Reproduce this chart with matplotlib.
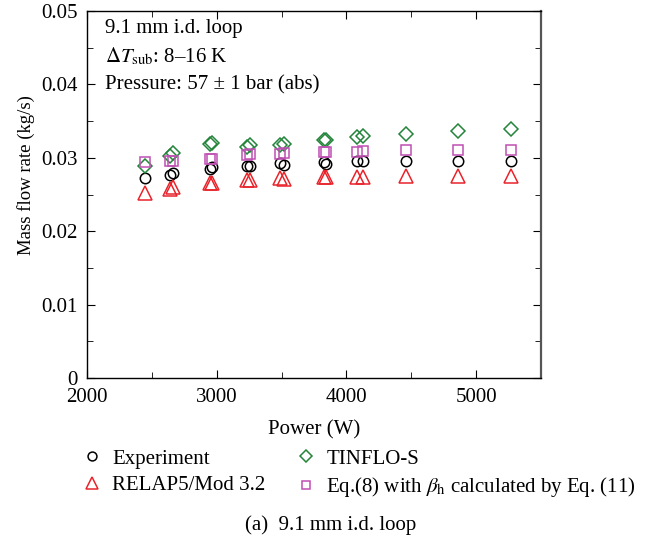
import matplotlib
matplotlib.use("Agg")
import matplotlib.pyplot as plt
from matplotlib.ticker import MultipleLocator, FuncFormatter

plt.rcParams['font.family'] = ['Liberation Serif', 'DejaVu Serif']
plt.rcParams['mathtext.fontset'] = 'stix'

# Heater power (W) for each test point
power = [2450, 2640, 2660, 2950, 2960, 3230, 3260, 3490, 3520,
         3830, 3840, 4080, 4130, 4460, 4860, 5270]

# Mass flow rate (kg/s)
experiment = [0.0272, 0.0277, 0.0279, 0.0285, 0.0288, 0.0289, 0.0289, 0.0293, 0.0290,
              0.0294, 0.0292, 0.0295, 0.0295, 0.0295, 0.0295, 0.0295]
relap5 = [0.0252, 0.0258, 0.0260, 0.0265, 0.0266, 0.0270, 0.0270, 0.0272, 0.0271,
          0.0274, 0.0274, 0.0274, 0.0274, 0.0275, 0.0275, 0.0275]
tinflo = [0.0289, 0.0302, 0.0307, 0.0319, 0.0320, 0.0315, 0.0317, 0.0317, 0.0319,
          0.0324, 0.0324, 0.0329, 0.0330, 0.0332, 0.0336, 0.0339]
eq8 = [0.0294, 0.0295, 0.0296, 0.0298, 0.0299, 0.0304, 0.0305, 0.0305, 0.0306,
       0.0308, 0.0308, 0.0308, 0.0309, 0.0310, 0.0310, 0.0310]

FS = 15

fig = plt.figure(figsize=(6.48, 5.43), dpi=100)
ax = fig.add_axes([87 / 648, 1 - 378 / 543, (541 - 87) / 648, (378 - 11) / 543])

h_exp, = ax.plot(power, experiment, linestyle='none', marker='o', markersize=7.5,
                 markerfacecolor='none', markeredgecolor='black', markeredgewidth=1.1,
                 label='Experiment')
h_rel, = ax.plot(power, relap5, linestyle='none', marker='^', markersize=10,
                 markerfacecolor='none', markeredgecolor='#e8232b', markeredgewidth=1.1,
                 label='RELAP5/Mod 3.2')
h_tin, = ax.plot(power, tinflo, linestyle='none', marker='D', markersize=7.5,
                 markerfacecolor='none', markeredgecolor='#23843a', markeredgewidth=1.1,
                 label='TINFLO-S')
h_eq, = ax.plot(power, eq8, linestyle='none', marker='s', markersize=7,
                markerfacecolor='none', markeredgecolor='#c050b4', markeredgewidth=1.1,
                label=r'Eq.(8) with $\beta_{\mathrm{h}}$ calculated by Eq. (11)')

ax.set_xlim(2000, 5500)
ax.set_ylim(0, 0.05)
ax.xaxis.set_major_locator(MultipleLocator(1000))
ax.xaxis.set_minor_locator(MultipleLocator(500))
ax.yaxis.set_major_locator(MultipleLocator(0.01))
ax.yaxis.set_minor_locator(MultipleLocator(0.005))
ax.tick_params(which='both', direction='in', top=True, right=True, labelsize=FS)
ax.tick_params(which='major', length=6)
ax.tick_params(which='minor', length=4)
ax.tick_params(axis='x', pad=7.5)
ax.tick_params(axis='y', pad=7)
for s in ax.spines.values():
    s.set_linewidth(1.0)
ax.spines['right'].set_linewidth(1.6)
ax.spines['right'].set_color('#555555')

ax.yaxis.set_major_formatter(FuncFormatter(
    lambda v, p: '0' if abs(v) < 1e-12 else f'{v:.2f}'))

ax.set_xlabel('Power (W)', fontsize=FS, labelpad=9)
ax.set_ylabel('Mass flow rate (kg/s)', fontsize=13.5)
ax.yaxis.set_label_coords(-0.115, 0.553)

ax.text(0.0396, 0.940, '9.1 mm i.d. loop', transform=ax.transAxes, fontsize=FS,
        va='baseline')
ax.text(0.0396, 0.861, r'$\Delta T_{\mathrm{sub}}$: 8–16 K', transform=ax.transAxes,
        fontsize=FS, va='baseline')
ax.text(0.0396, 0.785, 'Pressure: 57 ± 1 bar (abs)', transform=ax.transAxes,
        fontsize=FS, va='baseline')

fig.legend(handles=[h_exp, h_rel, h_tin, h_eq], ncol=2, frameon=False,
           loc='upper left', bbox_to_anchor=(82 / 648, 1 - 449 / 543),
           borderaxespad=0, borderpad=0,
           fontsize=FS, handlelength=1.0, handletextpad=0.46, columnspacing=1.45,
           labelspacing=0.32, markerscale=0.85)

fig.text(331 / 648, 1 - 525 / 543, '(a)  9.1 mm i.d. loop', ha='center', va='center',
         fontsize=FS)

fig.savefig('out.png', dpi=100)
